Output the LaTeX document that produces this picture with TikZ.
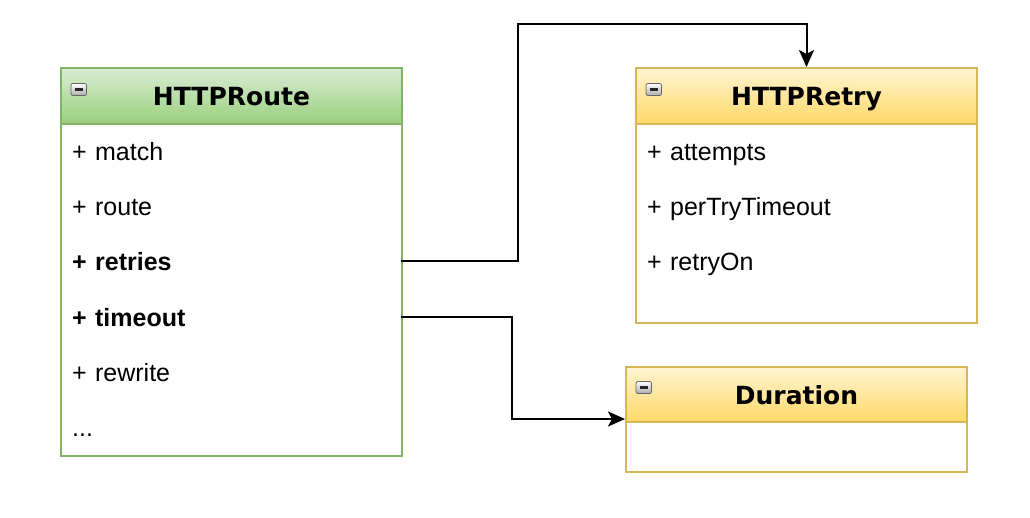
\documentclass[tikz,border=0pt]{standalone}
\usepackage{fontspec}
\setmainfont{Liberation Sans}
\newfontfamily\hdfont{DejaVu Sans}
\usetikzlibrary{arrows.meta}
\definecolor{grntop}{HTML}{D9ECD6}
\definecolor{grnbot}{HTML}{99D07C}
\definecolor{grnline}{HTML}{82B366}
\definecolor{yeltop}{HTML}{FFF4D2}
\definecolor{yelbot}{HTML}{FFD966}
\definecolor{yelline}{HTML}{D6B656}
\tikzset{minusicon/.pic={
  \draw[line width=0.8pt, draw=gray!80!black, top color=white, bottom color=gray!65, rounded corners=2pt] (0,0) rectangle (15.5,12);
  \draw[line width=2.2pt, black!85] (3.5,6) -- (12,6);
}}
\begin{document}
\begin{tikzpicture}[x=1pt,y=-1pt,
  hdr/.style={draw, line width=2pt, anchor=north west, minimum height=56pt, inner sep=0pt,
    text height=22pt, text depth=2pt,
    font=\hdfont\bfseries\fontsize{25}{30}\selectfont, text=black},
  greenhdr/.style={hdr, draw=grnline, top color=grntop, bottom color=grnbot},
  yelhdr/.style={hdr, draw=yelline, top color=yeltop, bottom color=yelbot},
  body/.style={draw, line width=2pt, fill=white, anchor=north west, inner sep=0pt},
  row/.style={anchor=north west, minimum height=55.3pt, text width=317pt, inner xsep=12pt,
    inner ysep=0pt, text height=21pt, text depth=2pt, align=left,
    font=\fontsize{25}{30}\selectfont},
  conn/.style={line width=2pt, -{Stealth[length=17pt,width=15pt,inset=4pt]}}
]
\fill[white] (0,0) rectangle (1030,518);
\useasboundingbox (0,0) rectangle (1030,518);

% HTTPRoute
\node[body, draw=grnline, minimum width=341pt, minimum height=332pt] (rb) at (60,123) {};
\node[greenhdr, minimum width=341pt] (rh) at (60,67) {HTTPRoute};
\pic at (71,83.5) {minusicon};
\node[row] (r1) at (60,123) {+ match};
\node[row] (r2) at (60,178.3) {+ route};
\node[row] (r3) at (60,233.6) {\textbf{+ retries}};
\node[row] (r4) at (60,288.9) {\textbf{+ timeout}};
\node[row] (r5) at (60,344.2) {+ rewrite};
\node[row] (r6) at (60,399.5) {...};

% HTTPRetry
\node[body, draw=yelline, minimum width=341pt, minimum height=199pt] (yb) at (635,123) {};
\node[yelhdr, minimum width=341pt] (yh) at (635,67) {HTTPRetry};
\pic at (646,83.5) {minusicon};
\node[row] (t1) at (635,123) {+ attempts};
\node[row] (t2) at (635,178.3) {+ perTryTimeout};
\node[row] (t3) at (635,233.6) {+ retryOn};

% Duration
\node[body, draw=yelline, minimum width=341pt, minimum height=50pt] (db) at (625,421) {};
\node[yelhdr, minimum width=341pt, minimum height=55pt] (dh) at (625,366) {Duration};
\pic at (636,381.5) {minusicon};

% connectors
\coordinate (c1) at (518,24);
\coordinate (c2) at (512,419);
\draw[conn] (r3.east) -| (c1) -| (yh.north);
\draw[conn] (r4.east) -| (c2) -- (dh.west |- c2);
\end{tikzpicture}
\end{document}
